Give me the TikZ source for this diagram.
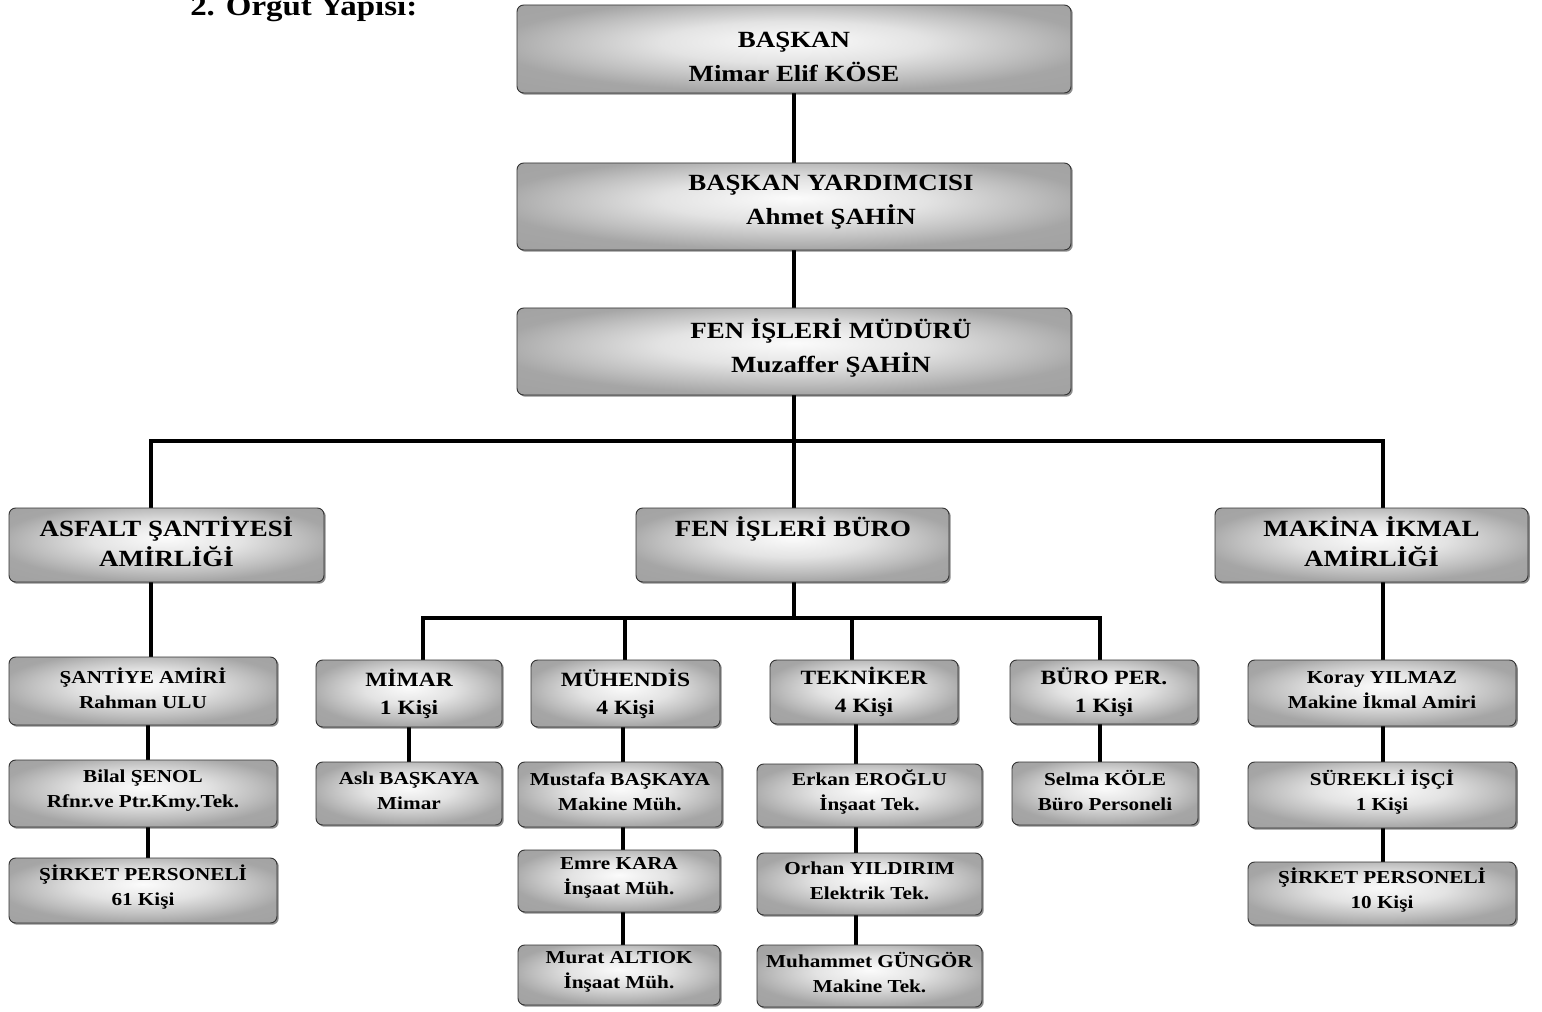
\documentclass[tikz,border=0pt]{standalone}
\usepackage{fontspec}
\setmainfont{Liberation Serif}[FakeStretch=1.16]
\usetikzlibrary{shadows,backgrounds}
\pgfdeclareradialshading{boxshade}{\pgfpoint{0bp}{5bp}}{color(0bp)=(gray!3); color(12bp)=(gray!22); color(21bp)=(gray!50); color(27bp)=(gray!70); color(50bp)=(gray!78)}
\newcommand\bx[7]{\node[box, minimum width={(#4-#2)*0.75pt}, minimum height={(#5-#3)*0.75pt}] (#1) at ({(#2+#4)/2},{(#3+#5)/2}) {};
  \node[#6] (#1t) at (#1.center) {#7};}
\begin{document}
\begin{tikzpicture}[x=0.75pt,y=-0.75pt,
  box/.style={draw=gray!40!black, line width=0.7pt, rounded corners=5pt, shading=boxshade, inner sep=0pt,
    drop shadow={shadow xshift=1.3pt, shadow yshift=-1.3pt, opacity=0.45, fill=black}},
  conn/.style={line width=2.6pt, black},
  big/.style={font=\bfseries\fontsize{17.4pt}{25.5pt}\selectfont, align=center, inner sep=0pt},
  mid/.style={font=\bfseries\fontsize{17.4pt}{22.5pt}\selectfont, align=center, inner sep=0pt, yshift=2.2pt},
  hdr/.style={font=\bfseries\fontsize{15.2pt}{21pt}\selectfont, align=center, inner sep=0pt},
  sml/.style={font=\bfseries\fontsize{13.7pt}{18.75pt}\selectfont, align=center, inner sep=0pt, yshift=2.4pt},
  none/.style={},
]
\useasboundingbox (0,0) rectangle (1542,1012);

% title
\node[anchor=base west, inner sep=0pt, font=\bfseries\fontsize{21.3pt}{24pt}\selectfont] (title) at (190,16) {2. Örgüt Yapısı:};

% top chain
\node[box, minimum width=554*0.75pt, minimum height=88*0.75pt] (b1) at (794,49) {};
\node[big] (t1) at (794,57) {BAŞKAN\\Mimar Elif KÖSE};
\node[box, minimum width=554*0.75pt, minimum height=87*0.75pt] (b2) at (794,206.5) {};
\node[big] (t2) at (831,202) {BAŞKAN YARDIMCISI\\Ahmet ŞAHİN};
\node[box, minimum width=554*0.75pt, minimum height=87*0.75pt] (b3) at (794,351.5) {};
\node[big] (t3) at (831,348) {FEN İŞLERİ MÜDÜRÜ\\Muzaffer ŞAHİN};

% level 2
\bx{as}{9}{508}{324}{582}{mid}{ASFALT ŞANTİYESİ\\AMİRLİĞİ}
\node[box, minimum width=313*0.75pt, minimum height=74*0.75pt] (fb) at (792.5,545) {};
\node[big] (tfb) at (793,529) {FEN İŞLERİ BÜRO};
\bx{mk}{1215}{508}{1528}{582}{mid}{MAKİNA İKMAL\\AMİRLİĞİ}

% left column
\bx{sa}{9}{657}{277}{725}{sml}{ŞANTİYE AMİRİ\\Rahman ULU}
\bx{bs}{9}{760}{277}{827}{sml}{Bilal ŞENOL\\Rfnr.ve Ptr.Kmy.Tek.}
\bx{sp1}{9}{858}{277}{923}{sml}{ŞİRKET PERSONELİ\\61 Kişi}

% level 3 headers
\bx{mi}{316}{660}{502}{727}{hdr}{MİMAR\\1 Kişi}
\bx{mu}{531}{660}{720}{727}{hdr}{MÜHENDİS\\4 Kişi}
\bx{te}{770}{660}{958}{724}{hdr}{TEKNİKER\\4 Kişi}
\bx{bp}{1010}{660}{1198}{724}{hdr}{BÜRO PER.\\1 Kişi}

% level 3 members
\bx{ab}{316}{762}{502}{825}{sml}{Aslı BAŞKAYA\\Mimar}
\bx{mb}{518}{762}{722}{827}{sml}{Mustafa BAŞKAYA\\Makine Müh.}
\bx{ek}{518}{850}{720}{912}{sml}{Emre KARA\\İnşaat Müh.}
\bx{ma}{518}{945}{720}{1005}{sml}{Murat ALTIOK\\İnşaat Müh.}
\bx{ee}{757}{764}{982}{827}{sml}{Erkan EROĞLU\\İnşaat Tek.}
\bx{oy}{757}{853}{982}{915}{sml}{Orhan YILDIRIM\\Elektrik Tek.}
\bx{mg}{757}{945}{982}{1007}{sml}{Muhammet GÜNGÖR\\Makine Tek.}
\bx{sk}{1012}{762}{1198}{825}{sml}{Selma KÖLE\\Büro Personeli}

% right column
\bx{ky}{1248}{660}{1516}{726}{sml}{Koray YILMAZ\\Makine İkmal Amiri}
\bx{si}{1248}{762}{1516}{828}{sml}{SÜREKLİ İŞÇİ\\1 Kişi}
\bx{sp2}{1248}{862}{1516}{925}{sml}{ŞİRKET PERSONELİ\\10 Kişi}

% connector coordinates
\coordinate (aL) at (151,441);
\coordinate (aR) at (1383,441);
\coordinate (bL) at (423,618);
\coordinate (bR) at (1100,618);
\coordinate (cMu) at (625,618);
\coordinate (cTe) at (852,618);
\coordinate (cS) at (148,0);
\coordinate (cMi) at (409,0);
\coordinate (cMb) at (623,0);
\coordinate (cEe) at (856,0);

% connectors
\begin{scope}[on background layer]
\fill[white] (0,0) rectangle (1542,1012);
\draw[conn] (b1.south) -- (b2.north);
\draw[conn] (b2.south) -- (b3.north);
\draw[conn] (b3.south) -- (fb.north -| b3.south);
\draw[conn] (as.north -| aL) -- (aL) -- (aR) -- (mk.north -| aR);
\draw[conn] (as.south -| aL) -- (sa.north -| aL);
\draw[conn] (sa.south -| cS) -- (bs.north -| cS);
\draw[conn] (bs.south -| cS) -- (sp1.north -| cS);
\draw[conn] (fb.south -| b3.south) -- (b3.south |- bL);
\draw[conn] (mi.north -| bL) -- (bL) -- (bR) -- (bp.north -| bR);
\draw[conn] (cMu) -- (mu.north -| cMu);
\draw[conn] (cTe) -- (te.north -| cTe);
\draw[conn] (mi.south -| cMi) -- (ab.north -| cMi);
\draw[conn] (mu.south -| cMb) -- (mb.north -| cMb);
\draw[conn] (mb.south -| cMb) -- (ek.north -| cMb);
\draw[conn] (ek.south -| cMb) -- (ma.north -| cMb);
\draw[conn] (te.south -| cEe) -- (ee.north -| cEe);
\draw[conn] (ee.south -| cEe) -- (oy.north -| cEe);
\draw[conn] (oy.south -| cEe) -- (mg.north -| cEe);
\draw[conn] (bp.south -| bR) -- (sk.north -| bR);
\draw[conn] (mk.south -| aR) -- (ky.north -| aR);
\draw[conn] (ky.south -| aR) -- (si.north -| aR);
\draw[conn] (si.south -| aR) -- (sp2.north -| aR);
\end{scope}
\end{tikzpicture}
\end{document}
